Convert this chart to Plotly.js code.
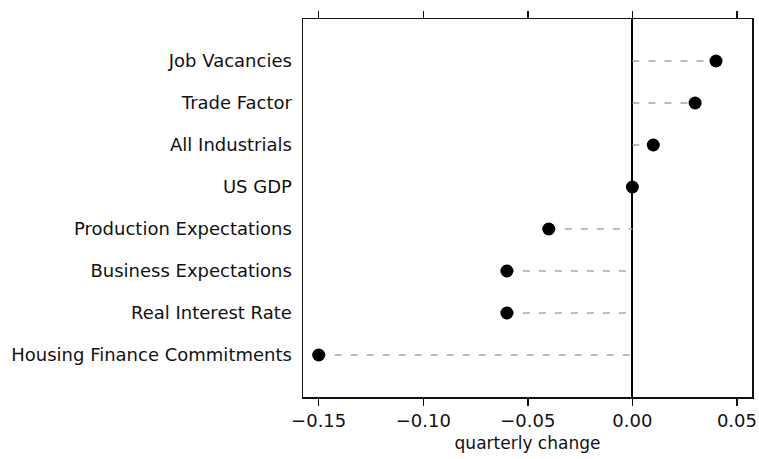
<!DOCTYPE html>
<html>
<head>
<meta charset="utf-8">
<script src="https://cdn.plot.ly/plotly-3.0.1.min.js"></script>
<style>html,body{margin:0;padding:0;background:#fff;}#chart{width:759px;height:459px;}</style>
</head>
<body>
<div id="chart"></div>
<script>
const categories = ["Job Vacancies","Trade Factor","All Industrials","US GDP","Production Expectations","Business Expectations","Real Interest Rate","Housing Finance Commitments"];
const changes = [0.04, 0.03, 0.01, 0.0, -0.04, -0.06, -0.06, -0.15];
const tickValues = [-0.15, -0.10, -0.05, 0.00, 0.05];
const tickLabels = ["\u22120.15","\u22120.10","\u22120.05","0.00","0.05"];

const segX = [], segY = [];
categories.forEach((c, i) => {
  const v = changes[i];
  segX.push(Math.min(0, v), Math.max(0, v), null);
  segY.push(c, c, null);
});

const FONT = "DejaVu Sans, Liberation Sans, sans-serif";

const traces = [
  {type:'scatter', mode:'lines', x:segX, y:segY, hoverinfo:'skip',
   line:{color:'#a6a6a6', width:1.6, dash:'7px,9px'}, showlegend:false},
  {type:'scatter', mode:'markers', x:changes, y:categories,
   marker:{color:'#000', size:13, line:{width:0}}, showlegend:false}
];

const layout = {
  width:759, height:459,
  margin:{l:303, r:7, t:19, b:62},
  paper_bgcolor:'#fff', plot_bgcolor:'#fff',
  font:{family:FONT, color:'#111'},
  xaxis:{
    range:[-0.1575, 0.0572], tickvals:tickValues, ticktext:tickLabels,
    ticks:'outside', ticklen:7, tickwidth:1.5, tickcolor:'#111',
    showline:true, linecolor:'#111', linewidth:1.5, mirror:'allticks',
    showgrid:false, zeroline:true, zerolinecolor:'#000', zerolinewidth:1.8,
    tickfont:{size:18, family:FONT, color:'#111'},
    title:{text:'quarterly change', font:{size:17, family:FONT, color:'#111'}, standoff:7}
  },
  yaxis:{
    type:'category', categoryorder:'array', categoryarray:categories.slice().reverse(),
    range:[-1, 8], ticks:'', showline:true, linecolor:'#111', linewidth:1.5, mirror:true,
    showgrid:false, zeroline:false, ticklabelstandoff:6,
    tickfont:{size:18, family:FONT, color:'#111'}
  }
};

Plotly.newPlot('chart', traces, layout, {displayModeBar:false, staticPlot:true});
</script>
</body>
</html>
